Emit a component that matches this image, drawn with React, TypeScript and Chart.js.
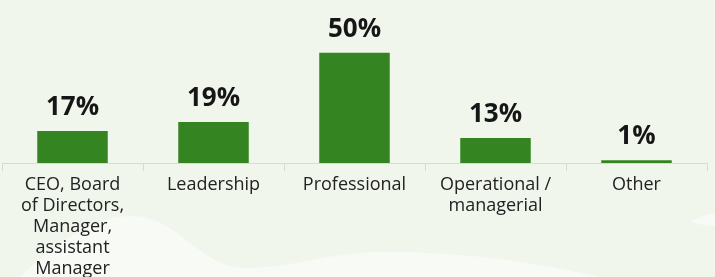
import React, { useEffect, useRef } from "react";
import { Chart, registerables } from "chart.js";

Chart.register(...registerables);

const categories: (string | string[])[] = [
  ["CEO, Board", "of Directors,", "Manager,", "assistant", "Manager"],
  "Leadership",
  "Professional",
  ["Operational /", "managerial"],
  "Other",
];
const barValues: number[] = [14.5, 18.6, 50, 11.4, 1.2];
const valueLabels: string[] = ["17%", "19%", "50%", "13%", "1%"];

const BG = "#f1f6ec";
const WAVE = "#f8faf5";
const BAR = "#358422";

const backgroundPlugin = {
  id: "bgWave",
  beforeDraw(chart: any) {
    const { ctx, width, height } = chart;
    ctx.save();
    ctx.fillStyle = BG;
    ctx.fillRect(0, 0, width, height);
    ctx.fillStyle = WAVE;
    ctx.beginPath();
    ctx.moveTo(20, height);
    ctx.bezierCurveTo(60, 240, 95, 215, 135, 216);
    ctx.bezierCurveTo(180, 218, 200, 268, 245, 268);
    ctx.bezierCurveTo(300, 268, 330, 250, 400, 252);
    ctx.bezierCurveTo(480, 254, 530, 262, 600, height);
    ctx.closePath();
    ctx.fill();
    ctx.beginPath();
    ctx.moveTo(690, 222);
    ctx.bezierCurveTo(700, 216, 710, 214, width, 213);
    ctx.lineTo(width, 226);
    ctx.bezierCurveTo(705, 225, 695, 224, 690, 222);
    ctx.closePath();
    ctx.fill();
    ctx.restore();
  },
};

const valueLabelPlugin = {
  id: "valueLabels",
  afterDatasetsDraw(chart: any) {
    const { ctx } = chart;
    const meta = chart.getDatasetMeta(0);
    ctx.save();
    ctx.font = "bold 26px 'Open Sans'";
    ctx.fillStyle = "#161616";
    ctx.textAlign = "center";
    ctx.textBaseline = "alphabetic";
    meta.data.forEach((bar: any, i: number) => {
      ctx.fillText(valueLabels[i], bar.x, bar.y - 16);
    });
    ctx.restore();
  },
};

export default function App() {
  const canvasRef = useRef<HTMLCanvasElement>(null);

  useEffect(() => {
    if (!canvasRef.current) return;
    const chart = new Chart(canvasRef.current, {
      type: "bar",
      data: {
        labels: categories,
        datasets: [
          {
            data: barValues,
            backgroundColor: BAR,
            borderWidth: 0,
            categoryPercentage: 0.5,
            barPercentage: 1,
          },
        ],
      },
      options: {
        responsive: false,
        animation: false,
        layout: { padding: { left: 2, right: 8, top: 0, bottom: 0 } },
        plugins: {
          legend: { display: false },
          tooltip: { enabled: false },
        },
        scales: {
          x: {
            afterFit: (scale: any) => {
              scale.height = 114;
            },
            grid: {
              display: true,
              drawOnChartArea: false,
              drawTicks: true,
              tickLength: 8,
              color: "#d9d9d9",
              offset: true,
            },
            border: { display: true, color: "#d9d9d9", width: 1 },
            ticks: {
              autoSkip: false,
              maxRotation: 0,
              padding: 3,
              color: "#222222",
              font: { family: "'Open Sans'", size: 18, lineHeight: 1.17 },
            },
          },
          y: {
            display: false,
            min: 0,
            max: 74,
          },
        },
      },
      plugins: [backgroundPlugin, valueLabelPlugin],
    });
    return () => chart.destroy();
  }, []);

  return (
    <div style={{ position: "fixed", left: 0, top: 0, width: 715, height: 277 }}>
      <canvas ref={canvasRef} width={715} height={277} />
    </div>
  );
}
